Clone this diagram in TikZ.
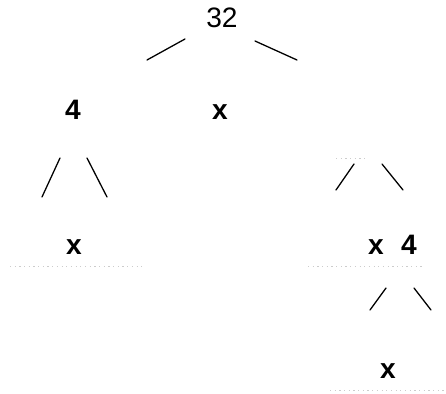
\documentclass[tikz,border=0pt]{standalone}
\usepackage{fontspec}
\setmainfont{Liberation Sans}
\begin{document}
\begin{tikzpicture}[
        x=0.03cm,
        y=-0.03cm,
        every node/.style={font=\fontsize{24}{28}\selectfont,inner sep=0pt},
        leaf text/.style={font=\fontsize{24}{28}\selectfont\bfseries},
        tree edge/.style={black,line width=1.1pt,line cap=round},
        scan dots/.style={gray!40,line width=0.6pt,dash pattern=on 1pt off 3pt}
    ]
        \useasboundingbox (0,0) rectangle (446,394);

        % labels
        \node (root) at (222,18) {32};
        \node[leaf text] (left four) at (73,110) {4};
        \node[leaf text] (mid x) at (220,112) {x};
        \node[leaf text] (left x) at (74,247) {x};
        \node[leaf text] (right x) at (376,247) {x};
        \node[leaf text] (right four) at (409,245) {4};
        \node[leaf text] (low x) at (388,371) {x};

        % edge ends
        \coordinate (r1a) at (185,39);  \coordinate (r1b) at (147,60);
        \coordinate (r2a) at (255,41);  \coordinate (r2b) at (297,60);
        \coordinate (l1a) at (60,158);  \coordinate (l1b) at (42,197);
        \coordinate (l2a) at (87,158);  \coordinate (l2b) at (107,197);
        \coordinate (m1a) at (354,164); \coordinate (m1b) at (336,190);
        \coordinate (m2a) at (382,164); \coordinate (m2b) at (403,190);
        \coordinate (f1a) at (386,288); \coordinate (f1b) at (370,310);
        \coordinate (f2a) at (414,288); \coordinate (f2b) at (431,310);

        \draw[tree edge] (r1a) -- (r1b);
        \draw[tree edge] (r2a) -- (r2b);
        \draw[tree edge] (l1a) -- (l1b);
        \draw[tree edge] (l2a) -- (l2b);
        \draw[tree edge] (m1a) -- (m1b);
        \draw[tree edge] (m2a) -- (m2b);
        \draw[tree edge] (f1a) -- (f1b);
        \draw[tree edge] (f2a) -- (f2b);

        % faint underlines
        \draw[scan dots] (336,158) -- (368,158);
        \draw[scan dots] (10,266) -- (142,266);
        \draw[scan dots] (308,266) -- (425,266);
        \draw[scan dots] (330,390) -- (445,390);
\end{tikzpicture}
\end{document}
